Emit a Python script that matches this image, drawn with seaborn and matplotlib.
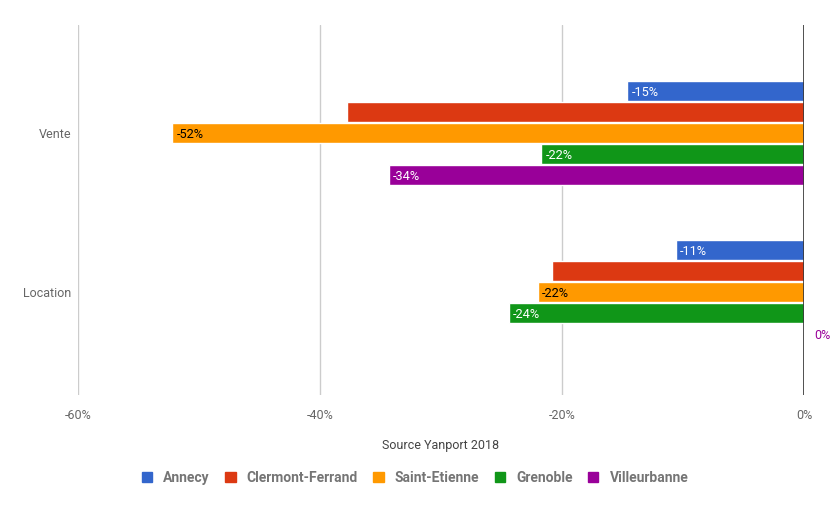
import pandas as pd
import matplotlib
matplotlib.use('Agg')
import matplotlib.pyplot as plt
import seaborn as sns
from matplotlib.patches import Patch

# Data
categories = ['Vente', 'Location']
cities = ['Annecy', 'Clermont-Ferrand', 'Saint-Etienne', 'Grenoble', 'Villeurbanne']
vente = [-14.6, -37.8, -52.2, -21.7, -34.3]
location = [-10.6, -20.8, -22.0, -24.4, 0]
show_label = [True, False, True, True, True]
colors = ['#3366CC', '#DC3912', '#FF9900', '#109618', '#990099']
label_colors = ['white', None, 'black', 'white', 'white']

rows = []
for cat, vals in zip(categories, [vente, location]):
    for city, v in zip(cities, vals):
        rows.append({'Type': cat, 'Ville': city, 'Valeur': v})
df = pd.DataFrame(rows)

sns.set_style('white')
plt.rcParams['font.family'] = ['Roboto', 'DejaVu Sans']

fig = plt.figure(figsize=(8.3, 5.13), dpi=100)
ax = fig.add_axes([78 / 830, 1 - 395 / 513, 726 / 830, 370 / 513])

sns.barplot(data=df, y='Type', x='Valeur', hue='Ville', hue_order=cities,
            order=categories, palette=colors, orient='h', width=0.66, gap=0.05,
            saturation=1, legend=False, ax=ax, zorder=3)

ax.set_xlim(-60, 0)
ax.set_ylim(1.648, -0.679)
ax.set_xticks([-60, -40, -20, 0])
ax.set_xticklabels(['-60%', '-40%', '-20%', '0%'])
ax.grid(axis='x', color='#cccccc', linewidth=1, zorder=0)
ax.axvline(0, color='#333333', linewidth=1.2, zorder=4)
for s in ax.spines.values():
    s.set_visible(False)
ax.tick_params(axis='both', length=0, labelsize=9, labelcolor='#666666')
ax.tick_params(axis='x', pad=10)
ax.tick_params(axis='y', pad=5)
ax.set_ylabel('')
ax.set_xlabel('Source Yanport 2018', fontsize=9, color='#444444', labelpad=12)

# value labels
for i, cont in enumerate(ax.containers):
    vals_city = [vente[i], location[i]]
    for bar, v in zip(cont, vals_city):
        if not show_label[i]:
            continue
        y = bar.get_y() + bar.get_height() / 2
        if v == 0:
            ax.text(v + 0.85, y, '0%', color=colors[i], fontsize=9, va='center_baseline',
                    ha='left', clip_on=False, zorder=5)
        else:
            ax.text(v + 0.35, y, f'{round(v):d}%', color=label_colors[i], fontsize=9.2,
                    va='center_baseline', ha='left', zorder=5)

handles = [Patch(facecolor=c, edgecolor=c, label=n) for c, n in zip(colors, cities)]
leg = fig.legend(handles=handles, loc='center', bbox_to_anchor=(415 / 830, 1 - 478 / 513),
                 ncol=5, frameon=False, handlelength=0.75, handleheight=0.75,
                 handletextpad=0.8, columnspacing=1.1,
                 prop={'weight': 'bold', 'size': 10})
for t in leg.get_texts():
    t.set_color('#757575')

fig.savefig('out.png', dpi=100)
